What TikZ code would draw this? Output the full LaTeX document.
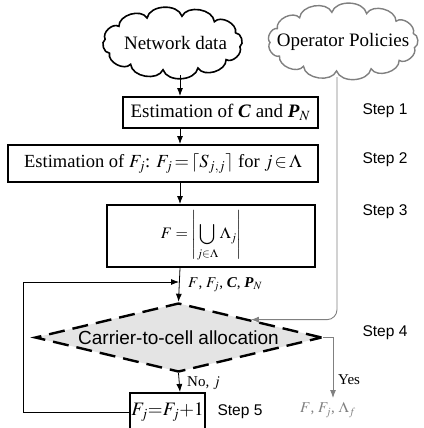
\documentclass[tikz,border=0pt]{standalone}
\usepackage{amsmath}
\usepackage{mathptmx}
\usepackage{fontspec}
\setmainfont{Liberation Serif}
\newfontfamily\arialf{Liberation Sans}
\usetikzlibrary{shapes.geometric,arrows.meta}
\definecolor{lgray}{HTML}{E4E4E4}
\definecolor{mgray}{HTML}{808080}
\tikzset{
  mainfont/.style={font=\fontsize{19}{22}\selectfont},
  smallfont/.style={font=\fontsize{15}{18}\selectfont},
  stepfont/.style={font=\arialf\fontsize{15.5}{18}\selectfont},
  stepbox/.style={draw, line width=2pt, inner sep=0pt, mainfont},
  arr/.style={-{Latex[length=8pt,width=6pt]}, line width=0.8pt},
  garr/.style={-{Latex[length=8pt,width=6pt,fill=mgray]}, line width=0.9pt, draw=mgray},
}
% \cloudpath{cx}{cy}{a}{b}{n}{phase}
\newcommand{\cloudpath}[6]{%
  ({#1+#3*cos(#6)},{#2+#4*sin(#6)})
  \foreach \k in {1,...,#5}{ to[bend left=75] ({#1+#3*cos(#6+\k*360/#5)},{#2+#4*sin(#6+\k*360/#5)}) }
  -- cycle}
\begin{document}
\begin{tikzpicture}[x=1pt,y=-1pt]
\useasboundingbox (0,0) rectangle (423,428);
\clip (0,0) rectangle (423,428);
\coordinate (ax) at (180,0);
\coordinate (opx) at (337,0);

% clouds
\draw[line width=1.6pt, fill=white] \cloudpath{172.5}{43}{68}{27}{12}{8};
\draw[mgray, line width=1.4pt, fill=white] \cloudpath{343}{41.5}{73}{29.5}{13}{12};
\node[mainfont] (net) at (175.5,43) {Network data};
\node[mainfont] (op) at (343,42) {Operator Policies};
\coordinate (netb) at (180,75);
\coordinate (opb) at (337,77);

\node[stepbox, minimum width=195pt, minimum height=31pt] (b1) at (220.5,112.5)
  {Estimation of \textbf{\textit{C}} and \textbf{\textit{P}}$_{\boldsymbol{N}}$};
\node[stepbox, minimum width=310pt, minimum height=37pt, font=\fontsize{18.5}{22}\selectfont] (b2) at (163,163.5)
  {\thickmuskip=2mu Estimation of $F_j$: $F_j = \lceil S_{j,j}\rceil$ for $j \in \Lambda$};
\node[stepbox, minimum width=208pt, minimum height=62pt, font=\fontsize{16}{19}\selectfont] (b3) at (211,236)
  {\thickmuskip=4mu$\displaystyle F=\left|\bigcup\limits_{j\in\Lambda}\Lambda_j\right|$\hspace*{19pt}};

\node[diamond, draw, dashed, dash pattern=on 16pt off 8pt, line width=2.4pt, fill=lgray,
      aspect=4.2, inner sep=0pt, minimum width=287pt, minimum height=69pt,
      font=\arialf\fontsize{19}{22}\selectfont] (dia) at (178.5,337.5) {Carrier-to-cell allocation};

\node[stepbox, minimum width=75pt, minimum height=39pt] (b5) at (167.5,412.5) {$F_j{=}F_j{+}1$};

\node[stepfont] (s1) at (385,111) {Step 1};
\node[stepfont] (s2) at (385,160) {Step 2};
\node[stepfont] (s3) at (385,212) {Step 3};
\node[stepfont] (s4) at (385,333) {Step 4};
\node[stepfont] (s5) at (240,412) {Step 5};

\draw[arr] (netb) -- (b1.north -| ax);
\draw[arr] (b1.south -| ax) -- (b2.north -| ax);
\draw[arr] (b2.south -| ax) -- (b3.north -| ax);
\draw[arr] (b3.south -| ax) -- (dia.north);
\draw[arr] (dia.south) -- (b5.north -| ax);
\node[smallfont, anchor=west, inner sep=0pt] (lab1) at (188,285)
  {$F$, $F_j$, \textbf{\textit{C}}, \textbf{\textit{P}}$_{\boldsymbol{N}}$};
\node[smallfont, anchor=west, inner sep=0pt] (lab2) at (187,383) {No, $j$};

\coordinate (fbc) at (23,282);
\coordinate (fbin) at (179,282);
\draw[arr] (b5.west) -| (fbc) -- (fbin);

\draw[garr, rounded corners=10pt] (opb) |- (dia.north east);

\coordinate (yesend) at (333,398);
\draw[garr] (dia.east) -| (yesend);
\node[smallfont, anchor=west, inner sep=0pt] (lab3) at (338,380) {Yes};
\node[smallfont, text=mgray, inner sep=0pt] (out) at (328,410) {$F$, $F_j$, $\Lambda_f$};
\end{tikzpicture}
\end{document}
